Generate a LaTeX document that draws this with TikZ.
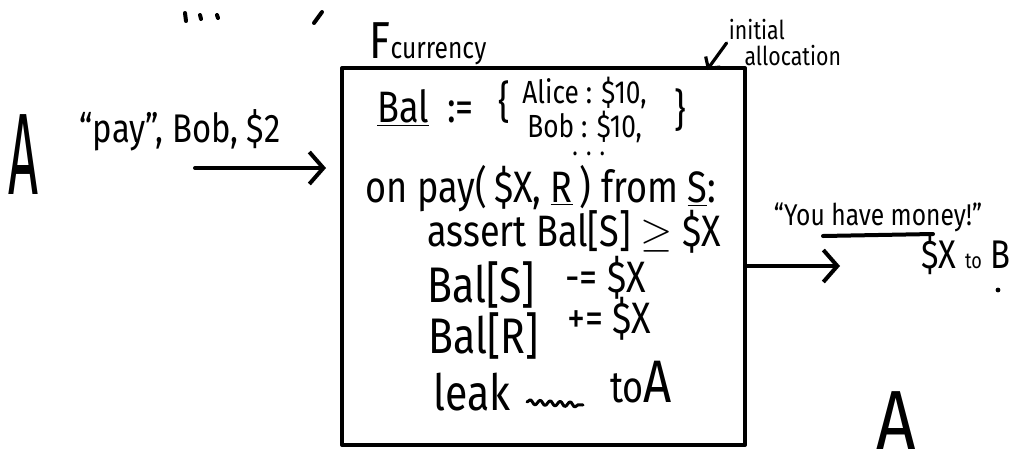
\documentclass[tikz,border=0pt]{standalone}
\usepackage{fontspec}
\setmainfont{Fira Sans}[FakeStretch=0.82]
\usetikzlibrary{arrows.meta,decorations.pathmorphing}

\tikzset{
  pen/.style={line width=2pt, line cap=round, line join=round},
  arr/.style={pen, -{Straight Barb[length=7pt,width=16pt]}},
  smallarr/.style={pen, line width=1.6pt, -{Straight Barb[length=4pt,width=9pt]}},
  codeline/.style={anchor=base west, inner sep=0pt, font=\fontsize{22}{26}\selectfont},
  bigline/.style={codeline, font=\fontsize{25}{29}\selectfont},
  smallline/.style={anchor=base west, inner sep=0pt, font=\fontsize{16}{19}\selectfont},
  bigbrace/.style={inner sep=0pt, font=\fontsize{22}{26}\selectfont}
}

\begin{document}
\begin{tikzpicture}[x=0.5pt,y=-0.5pt]
  \useasboundingbox (0,0) rectangle (1023,467);

  % Fragments of the line above
  \draw[pen] (185,13) -- (186,21);
  \draw[pen] (200,15) -- (201,19);
  \draw[pen] (217,15) -- (218,18);
  \draw[pen] (322,12) -- (314,23);

  % Draw box
  \node[pen, draw, minimum width=201.5pt, minimum height=188.5pt, inner sep=0pt] (fcur) at (543.5,256.5) {};

  % Box title and note
  \node[anchor=base, inner sep=0pt, font=\fontsize{26}{30}\selectfont] (title) at (428,58) {F{\fontsize{15}{18}\selectfont currency}};
  \node[align=left, inner sep=1pt, font=\fontsize{13}{15}\selectfont] (note) at (785,43) {initial\\[-2pt]\hspace{0.6em}allocation};
  \coordinate (allocTip) at (707,70);
  \draw[smallarr] (note.west) -- (allocTip);

  % Balances
  \node[codeline] (bal) at (377,122) {\underline{Bal}\hspace{9pt}:=};
  \node[bigbrace] (open) at (504,102) {\{};
  \node[smallline] (alice) at (522,103) {Alice : \$10,};
  \node[smallline] (bob) at (527,137) {Bob : \$10,};
  \node[bigbrace] (close) at (680,110) {\}};
  \node[smallline, font=\fontsize{14}{16}\selectfont] (more) at (572,155) {. . .};

  % Handler
  \node[codeline] (onpay) at (365,202) {on pay(\,\$X, \underline{R}\,) from \underline{S}:};
  \node[codeline] (assert) at (427,246) {assert Bal[S] $\geq$ \$X};
  \node[bigline] (debit) at (427,302) {Bal[S]};
  \node[codeline] (minus) at (565,292) {-= \$X};
  \node[bigline] (credit) at (428,353) {Bal[R]};
  \node[codeline] (plus) at (567,333) {+= \$X};
  \node[bigline] (leak) at (433,410) {leak};
  \node[codeline] (toA) at (610,402) {to{\fontsize{30}{34}\selectfont A}};
  \draw[pen, line width=1.5pt, decorate, decoration={snake, amplitude=1.2pt, segment length=5pt}] (527,402) -- (583,405);

  % Sender side
  \node[inner sep=0pt, font=\fontsize{58}{60}\selectfont] (senderA) at (23,155) {\scalebox{0.55}[1]{A}};
  \node[inner sep=0pt, font=\fontsize{20}{24}\selectfont] (msg) at (180,130) {``pay'', Bob, \$2};
  \coordinate (inTail) at (195,168);
  \draw[arr, shorten >=7pt] (inTail) -- (inTail -| fcur.west);

  % Receiver side
  \coordinate (outTip) at (840,266);
  \draw[arr] (fcur.east |- outTip) -- (outTip);
  \node[anchor=base, inner sep=0pt, font=\fontsize{15}{18}\selectfont] (reply) at (878,225) {``You have money!''};
  \draw[pen] (823,236) -- (933,234);
  \node[anchor=base, inner sep=0pt, font=\fontsize{20}{24}\selectfont] (payout) at (966,268) {\$X {\fontsize{11}{13}\selectfont to} B};
  \fill (998,290) circle (1.2pt);
  \node[anchor=base, inner sep=0pt, font=\fontsize{42}{46}\selectfont] (observerA) at (896,449) {A};
\end{tikzpicture}
\end{document}
